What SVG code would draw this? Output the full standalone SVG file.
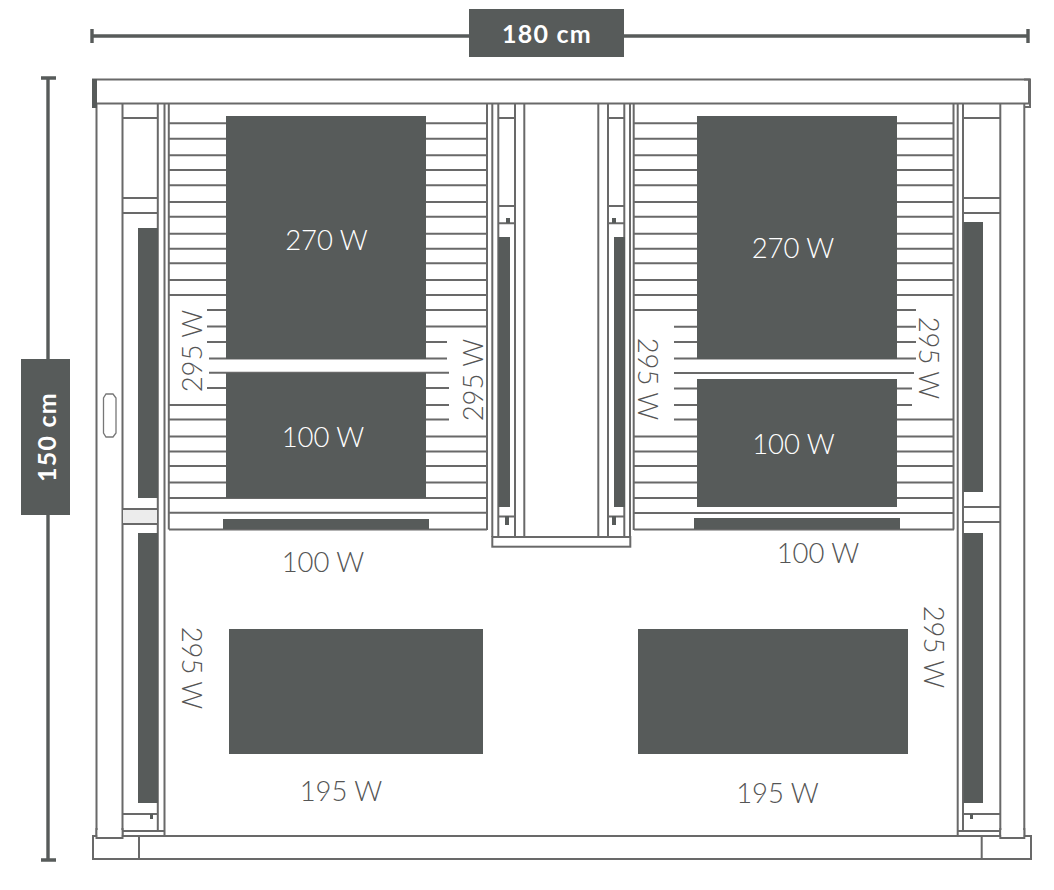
<svg xmlns="http://www.w3.org/2000/svg" width="1054" height="890" viewBox="0 0 1054 890">
<style>
.l{fill:none;stroke:#696969;stroke-width:2}
.w{fill:#fff;stroke:#696969;stroke-width:2}
.h{fill:#fff;stroke:#777;stroke-width:1.300}
.d{fill:#575b5a}
.dim{fill:none;stroke:#575b5a;stroke-width:3.400}
text{font-family:Lato,"Open Sans","Liberation Sans",sans-serif;font-weight:300;font-size:27.500px;fill:#555;text-anchor:middle}
.t{fill:#fff}
.b{font-weight:700;font-size:25px;fill:#fff;letter-spacing:1.200px}
</style>
<rect width="1054" height="890" fill="#fff"/>
<g id="dimensions">
<path class="dim" d="M92 29V43M92 36H1028M1028 29V43M41 78H56M48 78V860M41 860H56"/>
<rect class="d" x="469" y="9" width="155" height="48"/>
<text class="b" x="547" y="43">180 cm</text>
<rect class="d" x="21" y="359" width="49" height="156"/>
<text class="b" transform="translate(56 437) rotate(-90)">150 cm</text>
</g>
<g id="cabin-frame">
<path class="l" d="M96.500 104V838H122.500V104M122 118H158M122 198H158M122 213H158M122 509H158M122 524H158M122 814H158M122 831H165M157.800 104V831M164.500 104V836M168.800 104V529.500"/>
<rect x="123" y="510" width="34" height="13" fill="#ececec"/>
<path class="h" d="M106 394H113L116 398V433L113 437H106L103.500 433V398Z"/>
<path class="l" d="M1024.300 104V838H1000.300V104M963 118H1000M963 198H1000M963 213H1000M963 507H1000M963 522H1000M963 814H1000M958 831H1000M963 104V831M957.700 104V836M953.500 104V529.500"/>
<rect class="w" x="93" y="836" width="938" height="23"/>
<path class="l" d="M139 836V859M981.700 836V859"/>
<path class="l" d="M96.500 828V838H122.500V828M1000.300 828V838H1024.300V828"/>
<rect x="97.500" y="830" width="24" height="7" fill="#fff"/>
<rect x="1001.300" y="830" width="22" height="7" fill="#fff"/>
<rect class="w" x="93" y="79.500" width="936" height="24"/>
<rect class="d" x="92" y="79" width="5" height="29"/>
<path class="l" d="M1024 79.500H1030V107H1024"/>
<path class="d" d="M150 814h3v5h-3zM970 814h3v5h-3z"/>
</g>
<g id="centre-column">
<path class="l" d="M487 104V530M492.300 104V537M498.300 104V537M515 104V537M524.300 104V537M598.300 104V537M608 104V537M624.300 104V537M630 104V537M633.700 104V530M498 118H515M498 206H515M498 223.300H515M608 118H624M608 206H624M608 223.300H624M498 516.500H515M608 516.500H624"/>
<rect class="w" x="492.300" y="537" width="138" height="9.700"/>
<path class="d" d="M506 218h4v5h-4zM612 218h4v5h-4zM505 516h4v9h-4zM612 516h4v9h-4z"/>
<rect class="d" x="498.500" y="237" width="11.500" height="270"/>
<rect class="d" x="614" y="237" width="11" height="270"/>
</g>
<g id="left-bench">
<path class="l" d="M169 123.300H487M169 138.700H487M169 155.300H487M169 170H487M169 185.300H487M169 202H487M169 216.700H487M169 233.700H487M169 248.700H487M169 263.300H487M169 280H487M169 295H487M207 310H487M207 326.500H487M207 342H447M209 358.500H447M209 372.700H449M207 388H449M169 405H449M169 419.500H449M169 436.500H487M169 451.500H487M169 466H487M169 482.500H487M169 498H487M169 512.700H487M169 529.500H487"/>
<rect class="d" x="226" y="116" width="200" height="243"/>
<rect class="d" x="226" y="373" width="200" height="125"/>
<rect class="d" x="223" y="519" width="206" height="10"/>
</g>
<g id="right-bench">
<path class="l" d="M634 123.300H954M634 138.700H954M634 155.300H954M634 170H954M634 185.300H954M634 202H954M634 216.700H954M634 233.700H954M634 248.700H954M634 263.300H954M634 280H954M634 295H954M634 310H916M674 326.700H916M674 342H916M674 358.500H916M674 373H914M674 388.500H912M674 405H912M674 419.500H954M634 436.500H954M634 451.500H954M634 466H954M634 482.500H954M634 498H954M634 513H954M634 529.500H954"/>
<rect class="d" x="697" y="116" width="200" height="243"/>
<rect class="d" x="697" y="379" width="200" height="128"/>
<rect class="d" x="694" y="518" width="206" height="11"/>
</g>
<g id="side-heaters">
<rect class="d" x="138" y="228" width="20" height="270"/>
<rect class="d" x="138" y="533" width="20" height="270"/>
<rect class="d" x="963.500" y="222" width="19.500" height="270"/>
<rect class="d" x="963.500" y="533" width="19.500" height="270"/>
</g>
<g id="floor-heaters">
<rect class="d" x="229" y="629" width="254" height="125"/>
<rect class="d" x="638" y="629" width="270" height="125"/>
</g>
<g id="labels">
<text class="t" x="326.500" y="250">270 W</text>
<text class="t" x="323" y="447">100 W</text>
<text class="t" x="793" y="258">270 W</text>
<text class="t" x="793.500" y="454">100 W</text>
<text x="323" y="572">100 W</text>
<text x="818" y="563">100 W</text>
<text x="341" y="801">195 W</text>
<text x="777.500" y="803">195 W</text>
<text transform="translate(202 351) rotate(-90)">295 W</text>
<text transform="translate(483 380) rotate(-90)">295 W</text>
<text transform="translate(638 379) rotate(90)">295 W</text>
<text transform="translate(919 358) rotate(90)">295 W</text>
<text transform="translate(182 668) rotate(90)">295 W</text>
<text transform="translate(924 647) rotate(90)">295 W</text>
</g>
</svg>
